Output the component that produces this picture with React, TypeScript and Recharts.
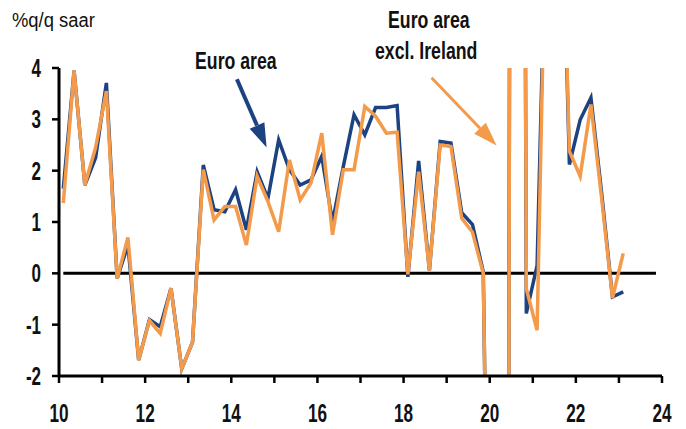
import { LineChart, Line, XAxis, YAxis, ReferenceLine } from "recharts";

// quarterly, 2010Q1 .. 2023Q1, %q/q saar
const euroArea = [
  1.65, 3.95, 1.72, 2.25, 3.71, -0.1, 0.55, -1.69, -0.9, -1.04, -0.29, -1.86,
  -1.34, 2.11, 1.24, 1.2, 1.63, 0.85, 1.98, 1.46, 2.6, 2.02, 1.72, 1.82, 2.28,
  1.0, 2.08, 3.09, 2.7, 3.23, 3.23, 3.27, -0.07, 2.19, 0.06, 2.57, 2.54, 1.18,
  0.95, 0.03, -14.5, -39, 60, -0.78, 0.15, 8.5, 10, 2.12, 2.99, 3.42, 1.55,
  -0.46, -0.36,
];
const exIreland = [
  1.37, 3.95, 1.72, 2.45, 3.55, -0.1, 0.7, -1.69, -0.92, -1.17, -0.29, -1.86,
  -1.34, 2.02, 1.04, 1.3, 1.3, 0.55, 1.89, 1.4, 0.81, 2.21, 1.43, 1.76, 2.73,
  0.75, 2.02, 2.02, 3.25, 3.06, 2.73, 2.75, -0.02, 1.98, 0.06, 2.5, 2.47, 1.07,
  0.8, 0.0, -14.5, -40, 60, -0.3, -1.11, 9, 10, 2.38, 1.89, 3.29, 1.45, -0.48,
  0.39,
];
const yTicks = [-2, -1, 0, 1, 2, 3, 4];
const xTicks = [10, 11, 12, 13, 14, 15, 16, 17, 18, 19, 20, 21, 22, 23, 24];

const firstYear = 10;
const data = euroArea.map((v, i) => ({
  t: firstYear + 0.1 + i / 4,
  ea: v,
  exIe: exIreland[i],
}));

const NAVY = "#1c4282";
const ORANGE = "#f39b4b";
const FONT = "'Liberation Sans', Arial, sans-serif";

function arrow(color: string, width: number) {
  return (p: any) => {
    const { x1, y1, x2, y2 } = p;
    const dx = x2 - x1;
    const dy = y2 - y1;
    const len = Math.sqrt(dx * dx + dy * dy);
    const ux = dx / len;
    const uy = dy / len;
    const headLen = 24;
    const headW = 8;
    const bx = x2 - ux * headLen;
    const by = y2 - uy * headLen;
    const pts = [
      `${x2},${y2}`,
      `${bx - uy * headW},${by + ux * headW}`,
      `${bx + uy * headW},${by - ux * headW}`,
    ].join(" ");
    return (
      <g>
        <line x1={x1} y1={y1} x2={bx} y2={by} stroke={color} strokeWidth={width} />
        <polygon points={pts} fill={color} />
      </g>
    );
  };
}

// narrow, tall digits like the original
const XTick = (p: any) => {
  const v = p.payload.value;
  if (v % 2 !== 0) return null;
  return (
    <text
      transform={`translate(${p.x},${p.y}) scale(0.66,1)`}
      textAnchor="middle"
      dy={39}
      fill="#111"
      fontSize={26}
      fontFamily={FONT}
      fontWeight="bold"
    >
      {v}
    </text>
  );
};

const YTick = (p: any) => (
  <text
    transform={`translate(${p.x},${p.y}) scale(0.68,1)`}
    textAnchor="end"
    dy={9}
    fill="#111"
    fontSize={25}
    fontFamily={FONT}
    fontWeight="bold"
  >
    {p.payload.value}
  </text>
);

const textStyle: any = {
  position: "absolute",
  fontFamily: FONT,
  fontWeight: "bold",
  fontSize: 23,
  color: "#111",
  whiteSpace: "nowrap",
  lineHeight: 1,
  transform: "scaleX(0.77)",
  transformOrigin: "left top",
};

export default function App() {
  return (
    <div
      style={{
        position: "absolute",
        left: 0,
        top: 0,
        width: 686,
        height: 429,
        background: "#fff",
        overflow: "hidden",
      }}
    >
      <LineChart
        width={686}
        height={429}
        data={data}
        margin={{ top: 68, right: 24, bottom: 13, left: 9 }}
      >
        <XAxis
          dataKey="t"
          type="number"
          domain={[10, 24]}
          ticks={xTicks}
          interval={0}
          axisLine={{ stroke: "#000", strokeWidth: 3 }}
          tickLine={{ stroke: "#000", strokeWidth: 2.5 }}
          tickSize={7}
          tickMargin={0}
          height={40}
          tick={XTick}
        />
        <YAxis
          domain={[-2, 4]}
          ticks={yTicks}
          allowDataOverflow
          interval={0}
          axisLine={{ stroke: "#000", strokeWidth: 3 }}
          tickLine={{ stroke: "#000", strokeWidth: 2.5 }}
          tickSize={7}
          tickMargin={11}
          width={50}
          tick={YTick}
        />
        <ReferenceLine
          segment={[
            { x: 10.1, y: 0 },
            { x: 23.86, y: 0 },
          ]}
          stroke="#000"
          strokeWidth={3}
        />
        <Line
          dataKey="ea"
          stroke={NAVY}
          strokeWidth={3.5}
          dot={false}
          isAnimationActive={false}
        />
        <Line
          dataKey="exIe"
          stroke={ORANGE}
          strokeWidth={3.5}
          dot={false}
          isAnimationActive={false}
        />
        <ReferenceLine
          segment={[
            { x: 14.13, y: 3.78 },
            { x: 14.82, y: 2.45 },
          ]}
          shape={arrow(NAVY, 4)}
        />
        <ReferenceLine
          segment={[
            { x: 18.65, y: 3.81 },
            { x: 20.16, y: 2.49 },
          ]}
          shape={arrow(ORANGE, 3)}
        />
      </LineChart>
      <div
        style={{
          ...textStyle,
          fontWeight: "normal",
          fontSize: 20,
          transform: "scaleX(0.92)",
          left: 12,
          top: 10,
        }}
      >
        %q/q saar
      </div>
      <div style={{ ...textStyle, left: 195, top: 50 }}>Euro area</div>
      <div style={{ ...textStyle, left: 388, top: 9 }}>Euro area</div>
      <div style={{ ...textStyle, left: 375, top: 40 }}>excl. Ireland</div>
    </div>
  );
}
